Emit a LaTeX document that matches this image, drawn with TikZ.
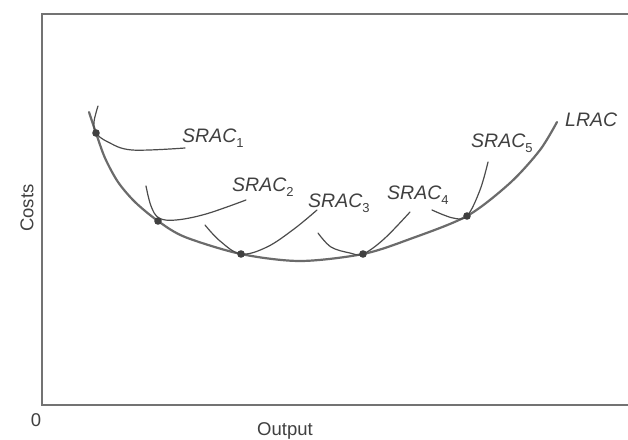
\documentclass[tikz,border=0pt]{standalone}
\usepackage{fontspec}
\setmainfont{Liberation Sans}
\begin{document}
\begin{tikzpicture}[x=1pt,y=-1pt,
  frameline/.style={draw=black!55,line width=1.4pt},
  lrac/.style={draw=black!58,line width=2.2pt,line cap=round},
  srac/.style={draw=black!70,line width=1.2pt,line cap=round},
  tdot/.style={fill=black!75},
  lbl/.style={anchor=west,inner sep=0pt,text=black!75,font=\fontsize{19.5}{22}\selectfont\itshape},
  axl/.style={inner sep=0pt,text=black!75,font=\fontsize{18.5}{22}\selectfont}]
\useasboundingbox (0,0) rectangle (628,439);
\fill[white] (0,0) rectangle (628,439);
% frame
\coordinate (tl) at (42,14);
\coordinate (bl) at (42,405);
\coordinate (tr) at (628,14);
\coordinate (br) at (628,405);
\draw[frameline] (tr) -- (tl) -- (bl) -- (br);
% tangency points
\coordinate (p1) at (96,133);
\coordinate (p2) at (158,221);
\coordinate (p3) at (241,254);
\coordinate (p4) at (363,254);
\coordinate (p5) at (467,216);
% LRAC
\draw[lrac] plot[smooth,tension=0.5] coordinates {(89,112) (p1) (105,158) (118,182) (135,202) (p2) (185,237) (p3) (300,261) (p4) (410,239) (p5) (510,183) (540,150) (557,122)};
% SRAC curves
\draw[srac] plot[smooth,tension=0.6] coordinates {(98,106) (94,122) (p1) (108,142) (132,150) (185,148)};
\draw[srac] plot[smooth,tension=0.6] coordinates {(146,186) (151,206) (159,218) (176,220) (206,214) (246,200)};
\draw[srac] plot[smooth,tension=0.6] coordinates {(205,225) (220,241) (p3) (267,247) (294,229) (317,210)};
\draw[srac] plot[smooth,tension=0.6] coordinates {(318,233) (331,247) (350,253) (p4) (384,239) (410,212)};
\draw[srac] plot[smooth,tension=0.6] coordinates {(432,210) (453,218) (p5) (480,190) (488,162)};
% dots
\foreach \p in {p1,p2,p3,p4,p5} \fill[tdot] (\p) circle (3.8);
% labels
\newcommand{\sbs}[1]{\raisebox{-0.45ex}{\fontsize{13}{13}\selectfont\upshape #1}}
\node[lbl] (s1) at (182,138) {SRAC\sbs{1}};
\node[lbl] (s2) at (232,187) {SRAC\sbs{2}};
\node[lbl] (s3) at (308,203) {SRAC\sbs{3}};
\node[lbl] (s4) at (387,195) {SRAC\sbs{4}};
\node[lbl] (s5) at (471,143) {SRAC\sbs{5}};
\node[lbl] (lr) at (565,120) {LRAC};
% axis labels
\node[axl] (zero) at (36,420) {0};
\node[axl] (out) at (285,431) {Output};
\node[axl,rotate=90] (cost) at (27,208) {Costs};
\end{tikzpicture}
\end{document}
